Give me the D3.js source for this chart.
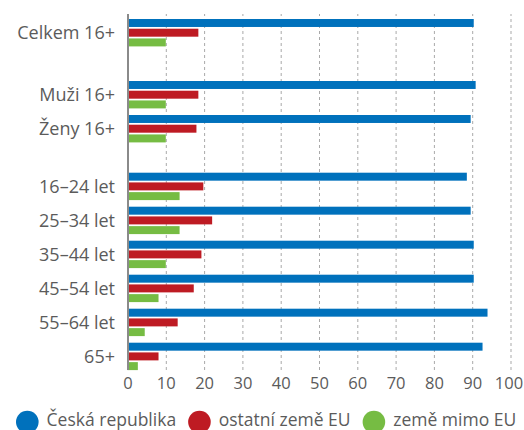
<!DOCTYPE html>
<html>
<head>
<meta charset="utf-8">
<script src="https://cdn.jsdelivr.net/npm/d3@7"></script>
<style>
  html, body { margin: 0; padding: 0; background: #fff; }
  svg { display: block; font-family: "Open Sans", "Noto Sans", sans-serif; }
</style>
</head>
<body>
<svg id="chart" width="524" height="430"></svg>
<script>
// Categories, grouped into sections (total, by sex, by age)
const sectionTotal = ["Celkem 16+"];
const sectionSex = ["Muži 16+", "Ženy 16+"];
const sectionAge = ["16–24 let", "25–34 let", "35–44 let", "45–54 let", "55–64 let", "65+"];
const categories = [...sectionTotal, ...sectionSex, ...sectionAge];

// Series (share in %)
const seriesNames = ["Česká republika", "ostatní země EU", "země mimo EU"];
const ceskaRepublika = [90.4, 90.9, 89.6, 88.6, 89.6, 90.4, 90.4, 94.0, 92.7];
const ostatniZemeEU  = [18.5, 18.5, 18.0, 19.8, 22.1, 19.3, 17.3, 13.1, 8.1];
const zemeMimoEU     = [10.0, 10.0, 10.0, 13.6, 13.6, 10.0, 8.1, 4.5, 2.7];
const tickValues = [0, 10, 20, 30, 40, 50, 60, 70, 80, 90, 100];

const colors = ["#0071bc", "#be1b23", "#76bc43"];
const textColor = "#5b5b5b";

const svg = d3.select("#chart");

// Horizontal value scale
const x = d3.scaleLinear().domain([0, 100]).range([127.5, 510.5]);

// Row scale: one band per category; extra space between sections
const rowStep = 34;
const rowTop = 19;
const y = d3.scaleBand()
  .domain(categories)
  .range([rowTop, rowTop + rowStep * categories.length])
  .paddingInner(0).paddingOuter(0);
const sectionGap = [0, 28, 28 + 23.7];
const sectionOf = c => sectionTotal.includes(c) ? 0 : (sectionSex.includes(c) ? 1 : 2);
const rowY = c => y(c) + sectionGap[sectionOf(c)];

// Sub-band scale for the three series within a row
const sub = d3.scaleBand().domain(seriesNames).range([0, 27.4]).paddingInner(0.18).paddingOuter(0);

const plotTop = 14, plotBottom = 370;

// Dashed vertical gridlines
const grid = svg.append("g")
  .attr("transform", `translate(0,${plotBottom})`)
  .call(d3.axisBottom(x).tickValues(tickValues.filter(v => v > 0)).tickSize(-(plotBottom - plotTop)).tickFormat(""));
grid.select(".domain").remove();
grid.selectAll(".tick line")
  .attr("stroke", "#a9a9a9")
  .attr("stroke-width", 1)
  .attr("stroke-dasharray", "3,3");

// Data rows
const rows = categories.map((c, i) => ({
  category: c,
  values: [ceskaRepublika[i], ostatniZemeEU[i], zemeMimoEU[i]]
}));

const rowG = svg.append("g").selectAll("g")
  .data(rows)
  .join("g")
  .attr("transform", d => `translate(0,${rowY(d.category)})`);

rowG.selectAll("rect")
  .data(d => d.values.map((v, j) => ({ key: seriesNames[j], value: v, color: colors[j] })))
  .join("rect")
  .attr("x", x(0))
  .attr("y", d => sub(d.key))
  .attr("width", d => x(d.value) - x(0))
  .attr("height", sub.bandwidth())
  .attr("fill", d => d.color);

// Category labels
rowG.append("text")
  .attr("x", 115)
  .attr("y", sub(seriesNames[1]) + sub.bandwidth() / 2)
  .attr("dy", "0.35em")
  .attr("text-anchor", "end")
  .attr("fill", textColor)
  .style("font-size", "18px")
  .text(d => d.category);

// Solid vertical axis line at zero
svg.append("line")
  .attr("x1", x(0) + 0.5).attr("x2", x(0) + 0.5)
  .attr("y1", plotTop).attr("y2", plotBottom)
  .attr("stroke", "#8a8a8a")
  .attr("stroke-width", 2);

// Value axis labels
const xAxis = svg.append("g")
  .attr("transform", `translate(0,${plotBottom})`)
  .call(d3.axisBottom(x).tickValues(tickValues).tickSize(0).tickFormat(d3.format("d")));
xAxis.select(".domain").remove();
xAxis.selectAll("text")
  .attr("y", 19)
  .attr("dy", 0)
  .attr("x", d => d === 100 ? -2 : 0)
  .attr("fill", textColor)
  .style("font-size", "16.5px")
  .style("font-family", "\"Open Sans\", sans-serif");

// Legend
const legend = svg.append("g").attr("transform", "translate(0,422)");
let lx = 16;
seriesNames.forEach((name, i) => {
  const r = 11.3;
  legend.append("circle")
    .attr("cx", lx + r).attr("cy", 0).attr("r", r)
    .attr("fill", colors[i]);
  const t = legend.append("text")
    .attr("x", lx + 2 * r + 8)
    .attr("y", 4)
    .attr("fill", textColor)
    .style("font-size", "17.5px")
    .text(name);
  lx = lx + 2 * r + 8 + t.node().getComputedTextLength() + 12;
});
</script>
</body>
</html>
